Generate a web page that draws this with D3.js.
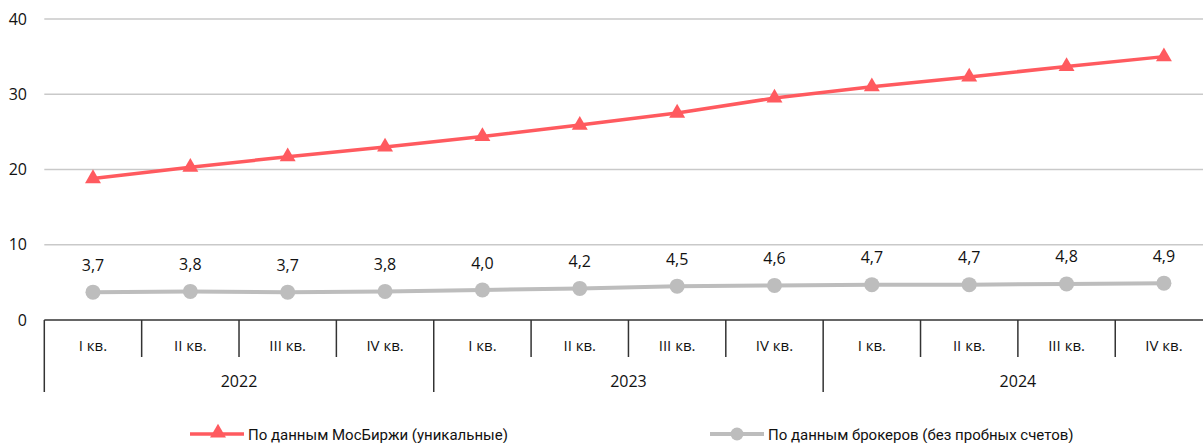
<!DOCTYPE html>
<html>
<head>
<meta charset="utf-8">
<script src="https://cdn.jsdelivr.net/npm/d3@7"></script>
<style>
  html, body { margin: 0; padding: 0; background: #fff; overflow: hidden; }
  svg { display: block; }
  .axis-text { font-family: "Open Sans", "Noto Sans", sans-serif; fill: #111; }
  .legend-text { font-family: "Roboto", "Noto Sans", sans-serif; fill: #111; }
</style>
</head>
<body>
<svg id="chart" width="1203" height="443"></svg>
<script>
// Quarters and years along the x axis
const quarters = ["I кв.", "II кв.", "III кв.", "IV кв."];
const years = ["2022", "2023", "2024"];

// Number of investors, mln
const moexValues = [18.8, 20.3, 21.7, 23.0, 24.4, 25.9, 27.5, 29.5, 31.0, 32.3, 33.7, 35.0];
const brokerValues = [3.7, 3.8, 3.7, 3.8, 4.0, 4.2, 4.5, 4.6, 4.7, 4.7, 4.8, 4.9];

const yTicks = [0, 10, 20, 30, 40];

const seriesNames = ["По данным МосБиржи (уникальные)", "По данным брокеров (без пробных счетов)"];

const RED = "#ff5a5f";
const GREY = "#bdbdbd";

const svg = d3.select("#chart");

const periods = [];
years.forEach(y => quarters.forEach(q => periods.push(y + " " + q)));

const x = d3.scaleBand()
  .domain(periods)
  .range([44.3, 1212.6])
  .paddingInner(0).paddingOuter(0);

const y = d3.scaleLinear().domain([0, 40]).range([320, 19]);

const cx = d => x(d) + x.bandwidth() / 2;

// Horizontal gridlines
svg.append("g").selectAll("line")
  .data(yTicks.filter(t => t > 0))
  .join("line")
  .attr("x1", x.range()[0]).attr("x2", 1203)
  .attr("y1", d => y(d)).attr("y2", d => y(d))
  .attr("stroke", "#c9c9c9").attr("stroke-width", 1.5);

// Y tick labels
svg.append("g").selectAll("text")
  .data(yTicks)
  .join("text")
  .attr("class", "axis-text")
  .attr("x", 27)
  .attr("y", d => y(d))
  .attr("dy", "0.35em")
  .attr("text-anchor", "end")
  .attr("font-size", 16)
  .text(d => d);

// Category axis: baseline, quarter separators, year separators
const axisG = svg.append("g");
axisG.append("line")
  .attr("x1", x.range()[0]).attr("x2", 1203)
  .attr("y1", y(0)).attr("y2", y(0))
  .attr("stroke", "#333").attr("stroke-width", 1.5);

const boundaries = d3.range(periods.length + 1).map(i => x.range()[0] + i * x.bandwidth());
axisG.selectAll("line.sep")
  .data(boundaries)
  .join("line")
  .attr("class", "sep")
  .attr("x1", d => d).attr("x2", d => d)
  .attr("y1", y(0))
  .attr("y2", (d, i) => (i % quarters.length === 0) ? 392 : 357)
  .attr("stroke", "#333").attr("stroke-width", 1.5);

axisG.selectAll("text.q")
  .data(periods)
  .join("text")
  .attr("class", "axis-text q")
  .attr("x", d => cx(d))
  .attr("y", 346)
  .attr("dy", "0.35em")
  .attr("text-anchor", "middle")
  .attr("font-size", 15)
  .text((d, i) => quarters[i % quarters.length]);

axisG.selectAll("text.yr")
  .data(years)
  .join("text")
  .attr("class", "axis-text yr")
  .attr("x", (d, i) => x.range()[0] + (i + 0.5) * quarters.length * x.bandwidth())
  .attr("y", 381)
  .attr("dy", "0.35em")
  .attr("text-anchor", "middle")
  .attr("font-size", 16)
  .text(d => d);

// Exchange series: line with triangle markers
const line = d3.line().x(d => cx(d[0])).y(d => y(d[1]));
const moexData = periods.map((p, i) => [p, moexValues[i]]);
const brokerData = periods.map((p, i) => [p, brokerValues[i]]);

svg.append("path")
  .datum(moexData)
  .attr("d", line)
  .attr("fill", "none")
  .attr("stroke", RED)
  .attr("stroke-width", 3.5);

const tri = d3.symbol().type(d3.symbolTriangle).size(110);
svg.append("g").selectAll("path")
  .data(moexData)
  .join("path")
  .attr("d", tri)
  .attr("transform", d => `translate(${cx(d[0])},${y(d[1])})`)
  .attr("fill", RED);

// Broker series: line with circle markers and value labels
svg.append("path")
  .datum(brokerData)
  .attr("d", line)
  .attr("fill", "none")
  .attr("stroke", GREY)
  .attr("stroke-width", 4);

svg.append("g").selectAll("circle")
  .data(brokerData)
  .join("circle")
  .attr("cx", d => cx(d[0]))
  .attr("cy", d => y(d[1]))
  .attr("r", 7.5)
  .attr("fill", GREY);

svg.append("g").selectAll("text")
  .data(brokerData)
  .join("text")
  .attr("class", "axis-text")
  .attr("x", d => cx(d[0]))
  .attr("y", d => y(d[1]) - 27)
  .attr("dy", "0.35em")
  .attr("text-anchor", "middle")
  .attr("font-size", 16)
  .text(d => d3.format(".1f")(d[1]).replace(".", ","));

// Legend
const legend = svg.append("g");
const legendItems = [
  { name: seriesNames[0], x0: 190, color: RED, marker: "triangle", sw: 3.5 },
  { name: seriesNames[1], x0: 710, color: GREY, marker: "circle", sw: 4 }
];
const ly = 434;
legendItems.forEach(it => {
  legend.append("line")
    .attr("x1", it.x0).attr("x2", it.x0 + 54)
    .attr("y1", ly).attr("y2", ly)
    .attr("stroke", it.color).attr("stroke-width", it.sw);
  if (it.marker === "triangle") {
    legend.append("path")
      .attr("d", tri)
      .attr("transform", `translate(${it.x0 + 28},${ly - 1})`)
      .attr("fill", it.color);
  } else {
    legend.append("circle")
      .attr("cx", it.x0 + 27).attr("cy", ly).attr("r", 6.5)
      .attr("fill", it.color);
  }
  legend.append("text")
    .attr("class", "legend-text")
    .attr("x", it.x0 + 58)
    .attr("y", 440)
    .attr("font-size", 15)
    .text(it.name);
});
</script>
</body>
</html>
